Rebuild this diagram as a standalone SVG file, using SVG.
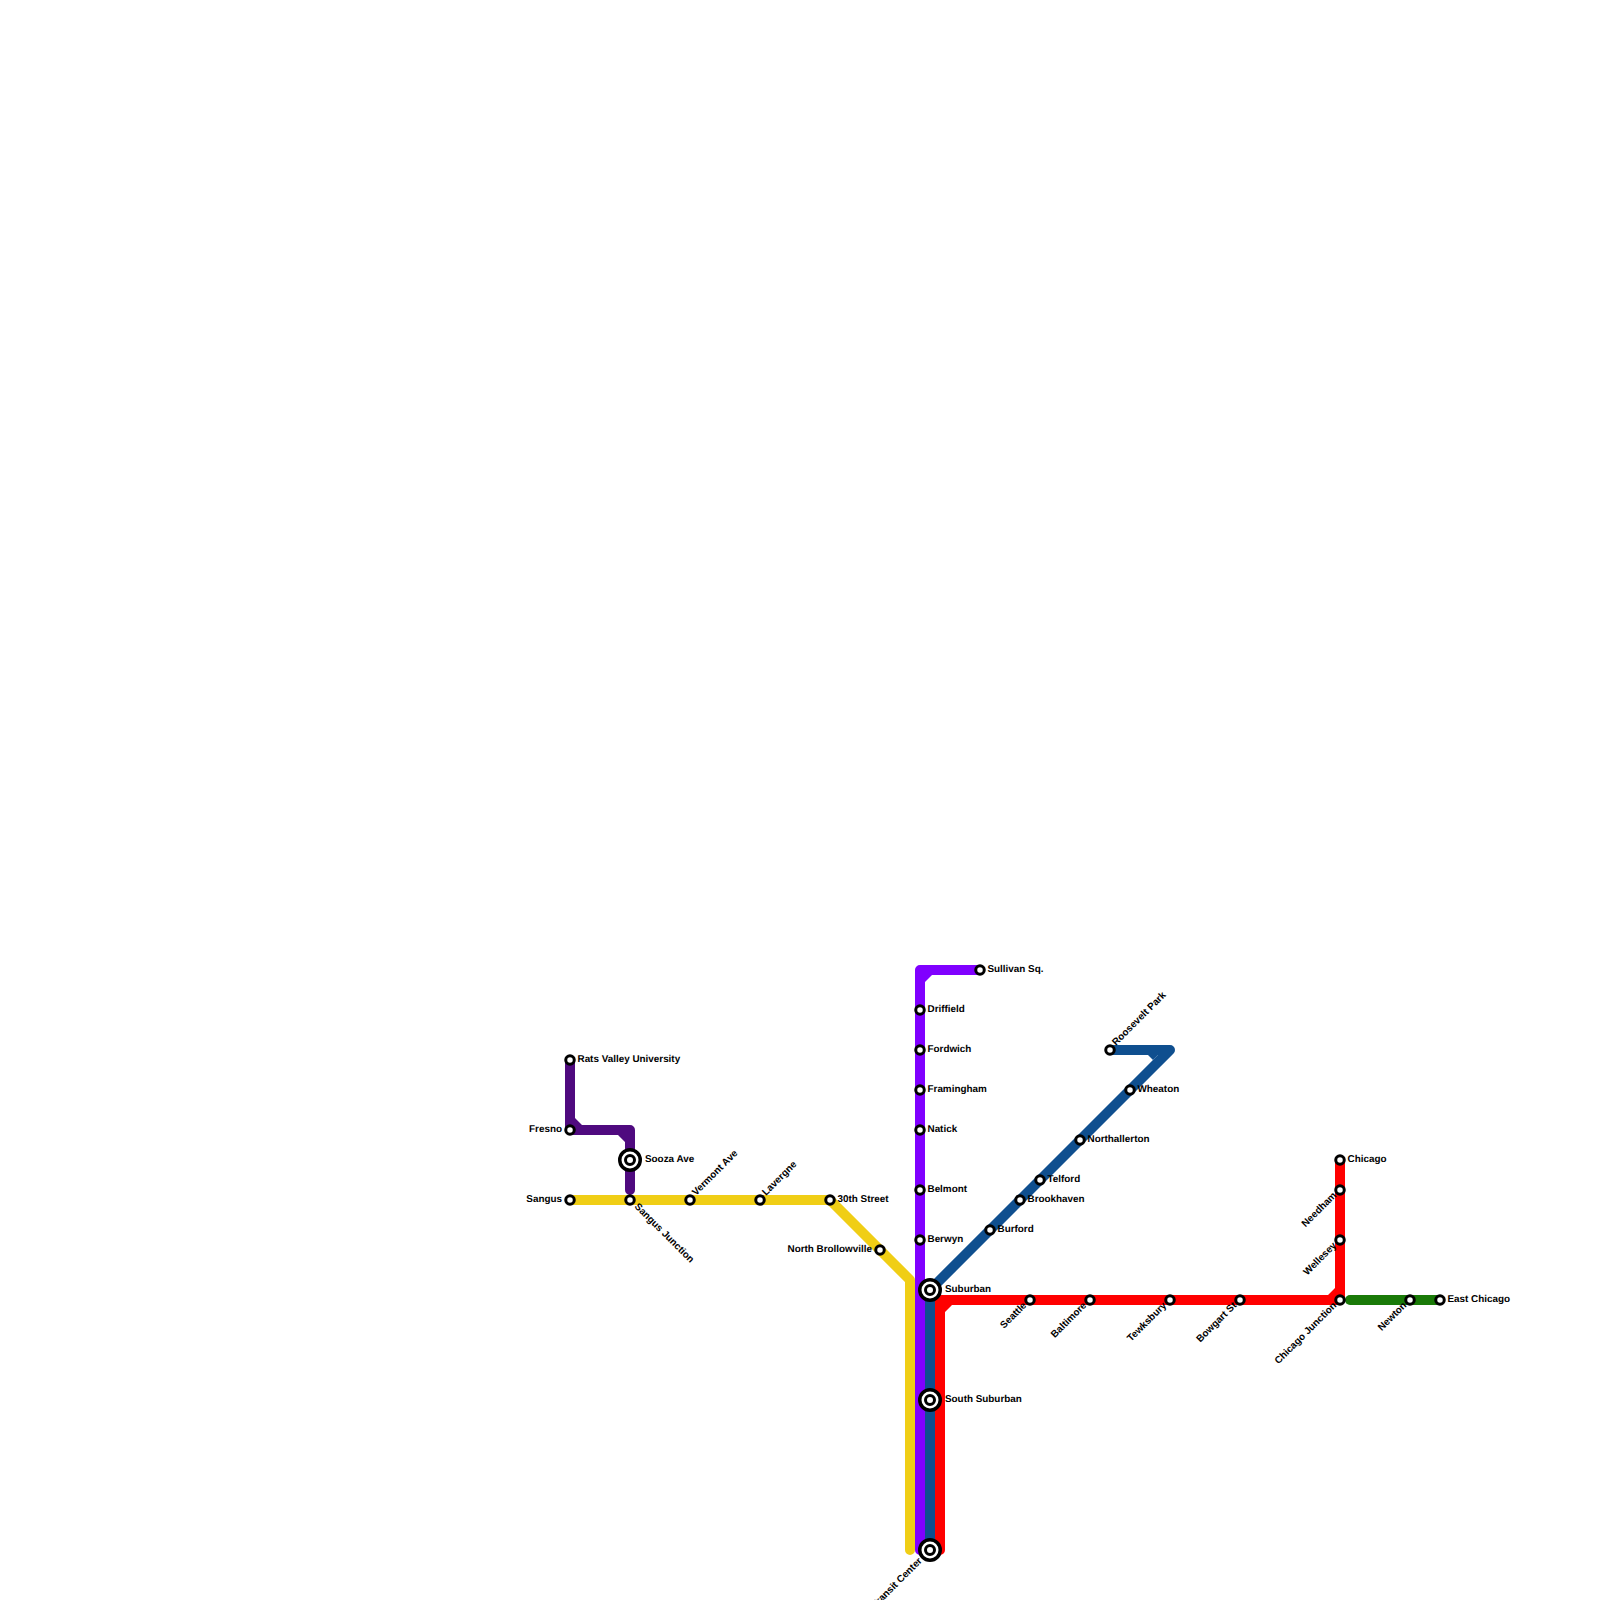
<svg xmlns="http://www.w3.org/2000/svg" width="1600" height="1600" viewBox="0 0 1600 1600">
<style>
.l{fill:none;stroke-width:10;stroke-linecap:round;stroke-linejoin:round}
.s{fill:#fff;stroke:#000;stroke-width:3}
.o{fill:#fff;stroke:#000;stroke-width:3.5}
.i{fill:#fff;stroke:#000;stroke-width:3}
.t{font-family:"Liberation Sans",Arial,sans-serif;font-size:9.9px;font-weight:700;fill:#000;text-rendering:geometricPrecision}
.e{text-anchor:end}
</style>
<rect width="1600" height="1600" fill="#fff"/>
<g id="connectors">
<path class="l" stroke="#f0ce15" d="M570 1200H830L910 1280V1550"/>
<path class="l" stroke="#8000ff" d="M920 1550V970H980"/><path fill="#8000ff" d="M925 975H932L925 982Z"/>
<path class="l" stroke="#4f0a7f" d="M570 1060V1130H630V1190"/><path fill="#4f0a7f" d="M575 1118V1125H582ZM618 1135H625V1142Z"/>
<path class="l" stroke="#0f4f8f" d="M930 1550V1290L1170 1050H1110"/><path fill="#0f4f8f" d="M1148 1055H1158L1153 1060Z"/>
<path class="l" stroke="#ff0000" d="M940 1550V1300H1340V1160"/><path fill="#ff0000" d="M945 1305H952L945 1312ZM1328 1295H1335V1288Z"/>
<path class="l" stroke="#1a7a08" d="M1350 1300H1440"/>
</g>
<g id="n-rats"><circle class="s" cx="570" cy="1060" r="4.25"/><text class="t" x="577.5" y="1062">Rats Valley University</text></g>
<g id="n-fresno"><circle class="s" cx="570" cy="1130" r="4.25"/><text class="t e" x="562" y="1132">Fresno</text></g>
<g id="n-sooza"><circle class="o" cx="630" cy="1160" r="10.25"/><circle class="i" cx="630" cy="1160" r="4.5"/><text class="t" x="645" y="1162">Sooza Ave</text></g>
<g id="n-sangus"><circle class="s" cx="570" cy="1200" r="4.25"/><text class="t e" x="562" y="1202">Sangus</text></g>
<g id="n-sangus-junction"><circle class="s" cx="630" cy="1200" r="4.25"/><text class="t" transform="translate(634 1207) rotate(45)">Sangus Junction</text></g>
<g id="n-vermont"><circle class="s" cx="690" cy="1200" r="4.25"/><text class="t" transform="translate(696 1196) rotate(-45)">Vermont Ave</text></g>
<g id="n-lavergne"><circle class="s" cx="760" cy="1200" r="4.25"/><text class="t" transform="translate(766 1196) rotate(-45)">Lavergne</text></g>
<g id="n-30th"><circle class="s" cx="830" cy="1200" r="4.25"/><text class="t" x="837.5" y="1202">30th Street</text></g>
<g id="n-north-brollowville"><circle class="s" cx="880" cy="1250" r="4.25"/><text class="t e" x="872" y="1252">North Brollowville</text></g>
<g id="n-sullivan"><circle class="s" cx="980" cy="970" r="4.25"/><text class="t" x="987.5" y="972">Sullivan Sq.</text></g>
<g id="n-driffield"><circle class="s" cx="920" cy="1010" r="4.25"/><text class="t" x="927.5" y="1012">Driffield</text></g>
<g id="n-fordwich"><circle class="s" cx="920" cy="1050" r="4.25"/><text class="t" x="927.5" y="1052">Fordwich</text></g>
<g id="n-framingham"><circle class="s" cx="920" cy="1090" r="4.25"/><text class="t" x="927.5" y="1092">Framingham</text></g>
<g id="n-natick"><circle class="s" cx="920" cy="1130" r="4.25"/><text class="t" x="927.5" y="1132">Natick</text></g>
<g id="n-belmont"><circle class="s" cx="920" cy="1190" r="4.25"/><text class="t" x="927.5" y="1192">Belmont</text></g>
<g id="n-berwyn"><circle class="s" cx="920" cy="1240" r="4.25"/><text class="t" x="927.5" y="1242">Berwyn</text></g>
<g id="n-suburban"><circle class="o" cx="930" cy="1290" r="10.25"/><circle class="i" cx="930" cy="1290" r="4.5"/><text class="t" x="945" y="1292">Suburban</text></g>
<g id="n-south-suburban"><circle class="o" cx="930" cy="1400" r="10.25"/><circle class="i" cx="930" cy="1400" r="4.5"/><text class="t" x="945" y="1402">South Suburban</text></g>
<g id="n-transit-center"><circle class="o" cx="930" cy="1550" r="10.25"/><circle class="i" cx="930" cy="1550" r="4.5"/><text class="t e" transform="translate(922.5 1561.5) rotate(-45)">Transit Center</text></g>
<g id="n-burford"><circle class="s" cx="990" cy="1230" r="4.25"/><text class="t" x="997.5" y="1232">Burford</text></g>
<g id="n-brookhaven"><circle class="s" cx="1020" cy="1200" r="4.25"/><text class="t" x="1027.5" y="1202">Brookhaven</text></g>
<g id="n-telford"><circle class="s" cx="1040" cy="1180" r="4.25"/><text class="t" x="1047.5" y="1182">Telford</text></g>
<g id="n-northallerton"><circle class="s" cx="1080" cy="1140" r="4.25"/><text class="t" x="1087.5" y="1142">Northallerton</text></g>
<g id="n-wheaton"><circle class="s" cx="1130" cy="1090" r="4.25"/><text class="t" x="1137.5" y="1092">Wheaton</text></g>
<g id="n-roosevelt"><circle class="s" cx="1110" cy="1050" r="4.25"/><text class="t" transform="translate(1116 1046) rotate(-45)">Roosevelt Park</text></g>
<g id="n-seattle"><circle class="s" cx="1030" cy="1300" r="4.25"/><text class="t e" transform="translate(1027 1306) rotate(-45)">Seattle</text></g>
<g id="n-baltimore"><circle class="s" cx="1090" cy="1300" r="4.25"/><text class="t e" transform="translate(1087 1306) rotate(-45)">Baltimore</text></g>
<g id="n-tewksbury"><circle class="s" cx="1170" cy="1300" r="4.25"/><text class="t e" transform="translate(1167 1306) rotate(-45)">Tewksbury</text></g>
<g id="n-bowgart"><circle class="s" cx="1240" cy="1300" r="4.25"/><text class="t e" transform="translate(1237 1306) rotate(-45)">Bowgart St</text></g>
<g id="n-chicago-junction"><circle class="s" cx="1340" cy="1300" r="4.25"/><text class="t e" transform="translate(1337 1306) rotate(-45)">Chicago Junction</text></g>
<g id="n-wellesey"><circle class="s" cx="1340" cy="1240" r="4.25"/><text class="t e" transform="translate(1337 1246) rotate(-45)">Wellesey</text></g>
<g id="n-needham"><circle class="s" cx="1340" cy="1190" r="4.25"/><text class="t e" transform="translate(1337 1196) rotate(-45)">Needham</text></g>
<g id="n-chicago"><circle class="s" cx="1340" cy="1160" r="4.25"/><text class="t" x="1347.5" y="1162">Chicago</text></g>
<g id="n-newton"><circle class="s" cx="1410" cy="1300" r="4.25"/><text class="t e" transform="translate(1407 1306) rotate(-45)">Newton</text></g>
<g id="n-east-chicago"><circle class="s" cx="1440" cy="1300" r="4.25"/><text class="t" x="1447.5" y="1302">East Chicago</text></g>
</svg>
